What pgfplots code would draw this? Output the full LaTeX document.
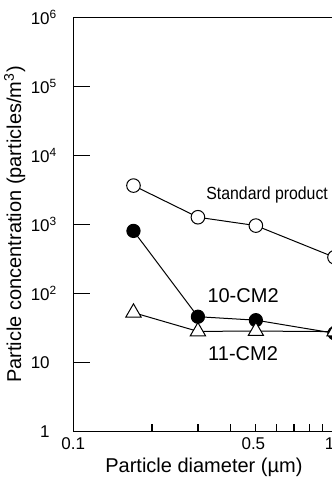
\documentclass[border=0pt]{standalone}
\usepackage{fontspec}
\setmainfont{Liberation Sans}
\usepackage{pgfplots}
\pgfplotsset{compat=1.18}
\begin{document}
\begin{tikzpicture}
\begin{axis}[
  at={(36.65pt,22.75pt)}, anchor=south west,
  scale only axis, width=130.6pt, height=207.1pt,
  xmode=log, ymode=log,
  xmin=0.1, xmax=1, ymin=1, ymax=1e6,
  axis line style={line width=0.6pt},
  xtick={0.1,0.5,1},
  xticklabels={0.1,\makebox[0pt]{\hspace*{-2.5pt}0.5},\makebox[0pt]{\hspace*{-5pt}1}},
  minor xtick={0.2,0.3,0.4,0.5,0.6,0.7,0.8,0.9},
  major x tick style={draw=none},
  ytick={1,10,100,1000,10000,100000,1000000},
  yticklabels={1,10,10\rlap{\textsuperscript{2}},10\rlap{\textsuperscript{3}},10\rlap{\textsuperscript{4}},10\rlap{\textsuperscript{5}},10\rlap{\textsuperscript{6}}},
  minor y tick style={draw=none},
  major tick length=8.3pt, minor tick length=3.5pt,
  tick style={line width=0.6pt, black},
  tick pos=left,
  tick label style={font=\fontsize{8.5}{10}\selectfont},
  yticklabel style={anchor=east, inner sep=0pt, xshift=-11.6pt},
  xticklabel style={anchor=north, inner sep=0pt, yshift=-3pt},
  label style={font=\fontsize{10}{12}\selectfont},
  xlabel={Particle diameter (µm)},
  ylabel={Particle concentration (particles/m\textsuperscript{3})},
  xlabel style={at={(axis description cs:0.5,-0.0978)}, anchor=base},
  ylabel style={at={(axis description cs:-0.1996,0.5)}, anchor=base},
]
\addplot[black, line width=0.5pt, mark=*, mark size=3.4pt, mark options={fill=white, line width=0.5pt}]
  coordinates {(0.17,3650) (0.3,1270) (0.5,961) (1,334)};
\addplot[black, line width=0.5pt, mark=*, mark size=3.3pt, mark options={fill=black}]
  coordinates {(0.17,805) (0.3,46) (0.5,41) (1,26.5)};
\addplot[black, line width=0.5pt, mark=triangle*, mark size=4.4pt, mark options={fill=white, line width=0.5pt}]
  coordinates {(0.17,52.7) (0.3,28.2) (0.5,28.5) (1,28)};
\node[anchor=base west, inner sep=0pt, font=\fontsize{8.8}{10.5}\selectfont] at (rel axis cs:0.508,0.5606) {\scalebox{0.9}[1]{Standard product}};
\node[anchor=base, font=\fontsize{10}{12}\selectfont] at (rel axis cs:0.65,0.311) {10-CM2};
\node[anchor=base, font=\fontsize{10}{12}\selectfont] at (rel axis cs:0.65,0.1726) {11-CM2};
\end{axis}
\pgfresetboundingbox
\path[use as bounding box] (0,0) rectangle (166pt,238.5pt);
\end{tikzpicture}
\end{document}
